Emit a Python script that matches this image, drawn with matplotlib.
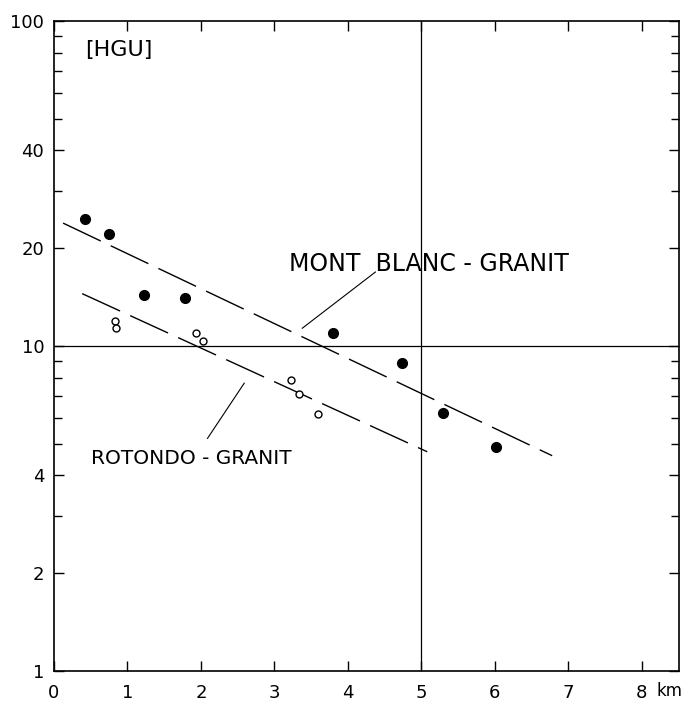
import numpy as np
import matplotlib.pyplot as plt
from matplotlib.ticker import FixedLocator, NullFormatter

# Mont Blanc granite (filled dots)
mb_km = [0.43, 0.75, 1.22, 1.79, 3.80, 4.74, 5.30, 6.01]
mb_hgu = [24.6, 22.2, 14.4, 14.1, 11.0, 8.87, 6.22, 4.90]

# Rotondo granite (open circles)
ro_km = [0.83, 0.84, 1.93, 2.03, 3.23, 3.33, 3.60]
ro_hgu = [11.97, 11.4, 10.94, 10.36, 7.86, 7.12, 6.18]

# dashed trend lines (end points)
mb_line_km = [0.125, 6.78]
mb_line_hgu = [23.9, 4.6]
ro_line_km = [0.385, 5.08]
ro_line_hgu = [14.5, 4.73]

# leader lines from the labels
mb_lead_km = [3.38, 4.375]
mb_lead_hgu = [11.35, 16.9]
ro_lead_km = [2.59, 2.09]
ro_lead_hgu = [7.69, 5.2]

y_major = [1, 2, 4, 10, 20, 40, 100]
y_minor = [3, 5, 6, 7, 8, 9, 30, 50, 60, 70, 80, 90]
x_major = [0, 1, 2, 3, 4, 5, 6, 7, 8]

fig = plt.figure(figsize=(6.91, 7.02), dpi=100)
ax = fig.add_axes([0.078, 0.044, 0.904, 0.926])
ax.set_yscale("log")
ax.set_xlim(0, 8.5)
ax.set_ylim(1, 100)

ax.axvline(5, color="black", linewidth=0.9)
ax.axhline(10, color="black", linewidth=0.9)

ax.plot(mb_line_km, mb_line_hgu, color="black", linewidth=1.0, dashes=(30, 8))
ax.plot(ro_line_km, ro_line_hgu, color="black", linewidth=1.0, dashes=(30, 8))
ax.plot(mb_lead_km, mb_lead_hgu, color="black", linewidth=0.8)
ax.plot(ro_lead_km, ro_lead_hgu, color="black", linewidth=0.8)

ax.plot(mb_km, mb_hgu, "o", color="black", markersize=7, linestyle="none")
ax.plot(ro_km, ro_hgu, "o", markerfacecolor="white", markeredgecolor="black",
        markeredgewidth=1.0, markersize=5, linestyle="none")

ax.text(3.2, 17.9, "MONT  BLANC - GRANIT", fontsize=17, ha="left", va="center")
ax.text(0.51, 4.52, "ROTONDO - GRANIT", fontsize=14.5, ha="left", va="center")

ax.text(0.05, 0.955, "[HGU]", transform=ax.transAxes, fontsize=16,
        ha="left", va="center")
ax.text(8.38, -0.031, "km", fontsize=12, ha="center", va="center",
        transform=ax.get_xaxis_transform())

ax.yaxis.set_major_locator(FixedLocator(y_major))
ax.yaxis.set_minor_locator(FixedLocator(y_minor))
ax.set_yticklabels([str(v) for v in y_major])
ax.yaxis.set_minor_formatter(NullFormatter())
ax.xaxis.set_major_locator(FixedLocator(x_major))
ax.set_xticklabels([str(v) for v in x_major])
ax.xaxis.set_minor_locator(FixedLocator([]))

ax.tick_params(which="both", direction="in", top=True, right=True,
               labelsize=13, width=1.0, pad=7)
ax.tick_params(which="major", length=7)
ax.tick_params(which="minor", length=6)
ax.tick_params(axis="x", pad=9)
for s in ax.spines.values():
    s.set_linewidth(1.2)

fig.savefig("out.png", dpi=100)
